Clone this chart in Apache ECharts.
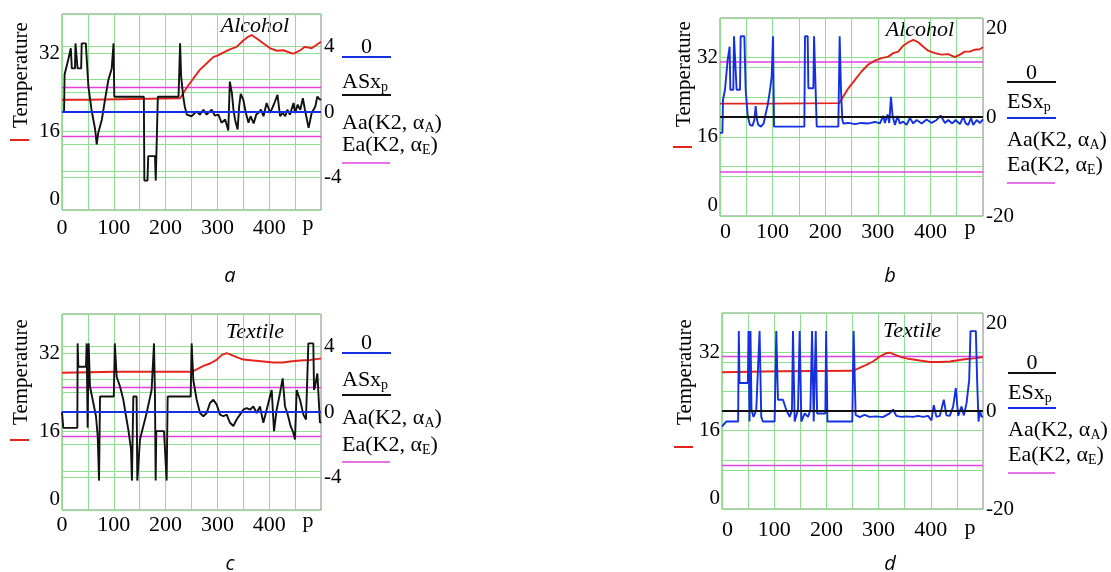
<!DOCTYPE html>
<html><head><meta charset="utf-8">
<script src="https://cdn.jsdelivr.net/npm/echarts@6/dist/echarts.min.js"></script>
<style>html,body{margin:0;padding:0;background:#fff;}#c{width:1111px;height:572px;}</style>
</head><body><div id="c"></div>
<script>
// ---------------- DATA ----------------
// x positions p (0..500) and values
const xTicks = [0, 100, 200, 300, 400];
const tempTicks = [0, 16, 32];
const asTicks = [-4, 0, 4];
const esTicks = [-20, 0, 20];

// Panel a: Alcohol, ASx
const aTempX = [0, 50, 51, 228, 241, 254, 266, 279, 292, 302, 311, 324, 337, 350, 360, 366, 376, 389, 402, 415, 427, 440, 447, 460, 469, 482, 498, 500];
const aTempY = [22.5, 22.5, 22.7, 22.8, 25.0, 26.9, 28.6, 29.9, 31.2, 31.6, 32.1, 32.8, 33.3, 34.6, 35.4, 35.7, 35.0, 34.0, 33.0, 32.5, 32.6, 32.1, 31.9, 32.6, 33.3, 33.0, 34.2, 34.3];
const aSigX = [0, 4, 5, 12, 17, 19, 25, 26, 29, 30, 37, 38, 46, 51, 57, 64, 67, 70, 77, 83, 89.5, 96, 99.5, 101, 158, 159, 165, 166.5, 179.5, 181, 183, 185, 225, 228, 230, 234, 237, 241, 250, 260, 266, 273, 279, 289, 295, 302, 308, 315, 321, 324, 328, 331, 334, 339, 342, 345, 350, 355, 360, 364, 370, 375, 379, 384, 389, 395, 402, 410, 416, 421, 426, 431, 435, 440, 447, 450, 455, 460, 465, 469, 476, 482, 489, 493, 498, 500];
const aSigY = [0, 0, 2.3, 3.2, 3.9, 2.67, 2.67, 4.2, 4.2, 2.67, 2.67, 4.2, 4.2, 1.55, 0.14, -1.07, -1.98, -1.27, -0.46, 0.75, 1.96, 2.67, 4.2, 0.93, 0.93, -4.2, -4.2, -2.7, -2.7, -4.2, -4.2, 0.93, 0.93, 4.2, 2.16, 0.95, 0.34, -0.16, -0.26, 0.04, -0.16, 0.14, -0.16, 0.14, -0.22, -0.16, -0.66, -0.46, -1.13, 1.86, 1.15, 0.14, -0.46, -1.07, 0.34, 1.11, 0.75, -0.06, -0.66, -0.26, -0.7, -0.16, -0.06, 0.14, -0.26, 0.55, -0.06, 0.55, 1.05, -0.26, -0.06, -0.26, 0.14, -0.16, 0.55, -0.06, 0.45, 0.14, 0.85, 0.14, -0.97, -0.06, 0.34, 0.95, 0.75, 0.8];
const aLimits = [1.5, -1.5];

// Panel b: Alcohol, ESx
const bTempX = [0, 90, 91, 227, 230, 244, 256.6, 269, 282, 294.6, 307.3, 320, 329.4, 338.9, 348.4, 357.9, 367.4, 376.9, 386.4, 395.8, 408.5, 421.2, 433.8, 446.5, 456, 465.5, 475, 484.4, 494, 500];
const bTempY = [22.7, 22.7, 22.8, 22.8, 23.4, 25.8, 27.5, 29.2, 30.6, 31.4, 31.9, 32.2, 32.9, 33.2, 34.4, 35.1, 35.6, 35.1, 34.2, 33.4, 32.9, 32.6, 32.7, 32.1, 32.6, 33.2, 33.2, 33.6, 33.7, 34.1];
const bSigX = [0, 4.5, 5.7, 9.5, 14.5, 18.3, 19.6, 25.3, 26.6, 30.4, 31.6, 38, 39.3, 46.3, 48.8, 52.7, 57, 61.5, 65.3, 67.8, 70.4, 72.9, 78, 83, 86.9, 90.7, 95.1, 98.3, 100.8, 102.7, 160.3, 161.6, 166.7, 168, 177.5, 178.8, 182, 183.9, 225, 227.5, 230, 232.6, 234.5, 244, 256.6, 269, 282, 294.6, 304, 310.4, 313.5, 318.6, 321.8, 325, 328.1, 332.6, 337.6, 342, 348.4, 354.8, 361.1, 367.4, 373.8, 383.3, 392.8, 402.3, 411.8, 419.4, 427.6, 434, 441.6, 447.9, 456.2, 462.5, 467, 472, 477.1, 481.5, 487.9, 494.2, 500];
const bSigY = [-3.2, -3.2, 3.5, 5.5, 11.5, 14.2, 5.5, 5.5, 16.3, 16.3, 5.5, 5.5, 16.3, 16.3, 5.5, 0.2, -1.6, -1.8, -0.6, 2.2, -0.6, -1.6, -1.95, -1.3, 0.7, 2.4, 5.5, 8.2, 16.3, -1.95, -1.95, 16.3, 16.3, 5.8, 5.8, 16.3, 16.3, -1.95, -1.95, 16.3, 5.5, -0.6, -1.3, -1.2, -1.45, -1.2, -1.3, -1.0, -1.3, 0.2, -1.2, 0.5, -1.2, 4.1, 0.2, -1.6, 0.2, -1.3, -0.95, -1.6, -0.2, -1.3, -0.6, -1.3, -0.5, -1.2, -0.6, 0.3, -1.2, -0.6, -1.3, -0.6, -1.45, 0.05, -1.3, -1.6, -0.2, -1.6, -0.6, -1.2, -0.5];
const bLimits = [11.1, -11.1];

// Panel c: Textile, ASx
const cTempX = [0, 105, 183, 250, 260, 273, 286, 299, 308, 318, 328, 337, 350, 369, 389, 408, 427, 440, 460, 479, 498, 500];
const cTempY = [28.0, 28.2, 28.2, 28.2, 28.7, 29.4, 29.9, 30.7, 31.6, 32.0, 31.6, 31.2, 30.7, 30.5, 30.3, 30.1, 30.1, 30.3, 30.5, 30.6, 30.9, 30.9];
const cSigX = [0, 2, 2.5, 29.6, 30.2, 31.5, 46.3, 47.6, 49.5, 51.5, 54, 60.5, 65.6, 68.9, 71.5, 73.4, 100, 102, 105.5, 112, 118.4, 123.6, 128, 133.2, 135, 137.7, 144, 145.4, 149, 150.6, 163.4, 173, 177.6, 179.5, 180.8, 182, 196.9, 202, 204, 248.4, 250.3, 253.5, 260, 266.4, 272.9, 279.3, 285.7, 292.2, 298.6, 305, 311.5, 317.9, 324.3, 330.8, 337.2, 343.6, 350, 356.5, 363, 369.4, 375.8, 382.2, 388.7, 395.1, 401.5, 404.8, 409.3, 414.4, 420.8, 426, 430.5, 435, 441.4, 446.6, 449.8, 453, 459.5, 466, 471, 475.6, 485.2, 486.5, 488.4, 493, 498, 500];
const cSigY = [0, 0, -0.97, -0.97, 4.2, 2.77, 2.77, 4.2, -0.97, 4.2, 1.56, 0.55, -0.26, -1.47, -4.2, 0.95, 0.95, 4.2, 2.16, 1.56, 0.75, -0.26, -1.07, -2.28, -4.2, 0.95, 0.95, -4.2, -4.2, -1.67, -0.06, 1.35, 4.2, 0.95, -4.2, -1.17, -1.17, -4.2, 0.95, 0.95, 4.2, 1.96, 0.75, -0.06, -0.26, -0.06, 0.55, 0.75, 0.45, -0.16, -0.26, -0.16, -0.66, -0.86, -0.46, -0.16, 0.14, 0.24, 0.14, 0.34, -0.06, 0.34, -0.66, 0.14, 0.95, 1.35, -1.17, 0.14, 1.15, 2.06, 0.34, -0.06, -0.87, -1.27, -1.68, 1.35, 0.75, -0.16, -0.46, 4.2, 4.2, 1.35, 1.56, 2.36, -0.66, -0.6];
const cLimits = [1.5, -1.5];

// Panel d: Textile, ESx
const dTempX = [0, 110, 251, 263.6, 276.4, 289.2, 302, 314.8, 321.2, 330.8, 343.6, 359.6, 378.8, 398, 417.2, 436.4, 449.2, 468.4, 487.6, 500];
const dTempY = [27.9, 28.1, 28.2, 28.8, 29.4, 30.1, 31.1, 31.8, 31.9, 31.5, 31.0, 30.6, 30.3, 30.0, 30.0, 30.1, 30.3, 30.6, 30.8, 31.0];
const dSigX = [0, 3, 8, 30.9, 32.2, 33.5, 49.5, 50.8, 52.7, 54.6, 56.5, 60.4, 65.6, 72, 75.2, 78.4, 100.8, 104, 107.2, 116.8, 123.2, 129.6, 134, 136, 139.2, 145.6, 148.8, 152, 158.4, 164.8, 169.3, 172.5, 175.7, 179.6, 182.2, 198, 199.5, 202, 249.6, 252.1, 256, 263.6, 273.2, 282.8, 295.6, 308.4, 321.2, 327.6, 334, 343.6, 353.2, 366, 375.6, 385.2, 394.8, 401.2, 405.7, 410.8, 417.2, 424.9, 430, 436.4, 442.8, 447.9, 452.4, 458.8, 463.3, 468.4, 473.5, 476.1, 486.3, 488.9, 491.5, 494, 497.3, 500];
const dSigY = [-3.2, -3.0, -2.15, -2.15, 16.3, 5.7, 5.7, 16.3, -2.15, 16.3, 0.2, -1.2, 0.2, 16.3, -1.2, -2.15, -2.15, 16.3, 2.3, 2.3, 0.2, -1.2, 0.2, 16.3, -2.15, 0.2, 16.3, -2.15, -0.5, -1.2, 0.2, 16.3, -2.15, 16.3, -0.5, -0.5, 16.3, -2.15, -2.15, 16.3, -0.8, -1.25, -0.8, -1.2, -1.1, -1.25, -0.5, 0.3, -1.0, -1.2, -1.1, -1.2, -1.0, -1.2, -1.0, -1.9, 1.2, -1.2, -1.0, 2.3, -0.9, -1.0, 0.9, 4.7, -1.0, 0.9, -0.9, 1.55, 6.3, 16.3, 16.3, 5.7, -2.15, 0.2, -1.2, -1.1];
const dLimits = [11.1, -11.1];

// ---------------- CHART ----------------
const SERIF = '"Liberation Serif", "Times New Roman", serif';
const GREEN = '#8ee08e';
const RED = '#e3241c';
const BLUE = '#1530e0';
const BLACK = '#111111';
const MAG = '#dd44dd';
const zip = (xs, ys) => xs.map((x, i) => [x, ys[i]]);

const grids = [
  {left: 62, top: 14, width: 259, height: 196},
  {left: 720, top: 18, width: 263, height: 198},
  {left: 62, top: 314, width: 259, height: 196},
  {left: 722, top: 313, width: 261, height: 196}
].map(g => Object.assign(g, {show: true, borderColor: '#8a8a8a', borderWidth: 1, backgroundColor: 'transparent', containLabel: false}));

const xMargins = [7, 5, 4, 10];
const labelBase = {fontFamily: SERIF, fontSize: 21, color: '#000'};
const xAxes = [0, 1, 2, 3].map(i => ({
  gridIndex: i, type: 'value', min: 0, max: 500, interval: 50,
  axisLine: {show: false}, axisTick: {show: false},
  splitLine: {show: true, lineStyle: {color: GREEN, width: 1}},
  axisLabel: Object.assign({}, labelBase, {fontSize: 22, margin: xMargins[i],
    alignMinLabel: (i % 2) ? 'left' : 'center',
    formatter: v => xTicks.includes(v) ? String(v) : ''})
}));

const yAxes = [];
[0, 1, 2, 3].forEach(i => {
  yAxes.push({
    gridIndex: i, type: 'value', min: 0, max: 40, interval: 8, position: 'left',
    axisLine: {show: false}, axisTick: {show: false},
    splitLine: {show: true, lineStyle: {color: GREEN, width: 1}},
    axisLabel: Object.assign({}, labelBase, {margin: 2, verticalAlignMinLabel: 'bottom',
      formatter: v => tempTicks.includes(v) ? String(v) : ''})
  });
  const es = (i % 2) === 1;
  yAxes.push({
    gridIndex: i, type: 'value', position: 'right',
    min: es ? -20 : -6, max: es ? 20 : 6, interval: es ? 10 : 2,
    axisLine: {show: false}, axisTick: {show: false},
    splitLine: {show: true, lineStyle: {color: GREEN, width: 1}},
    axisLabel: Object.assign({}, labelBase, {margin: 3,
      verticalAlignMaxLabel: 'top',
      formatter: v => (es ? esTicks : asTicks).includes(v) ? String(v) : ''})
  });
});

function line(i, axis, data, color, width, z) {
  return {type: 'line', xAxisIndex: i, yAxisIndex: i * 2 + axis, data: data,
    symbol: 'none', smooth: false, silent: true, z: z,
    lineStyle: {color: color, width: width}, animation: false};
}
const panels = [
  {tx: aTempX, ty: aTempY, sx: aSigX, sy: aSigY, lim: aLimits, sig: BLACK, zero: BLUE},
  {tx: bTempX, ty: bTempY, sx: bSigX, sy: bSigY, lim: bLimits, sig: BLUE, zero: BLACK},
  {tx: cTempX, ty: cTempY, sx: cSigX, sy: cSigY, lim: cLimits, sig: BLACK, zero: BLUE},
  {tx: dTempX, ty: dTempY, sx: dSigX, sy: dSigY, lim: dLimits, sig: BLUE, zero: BLACK}
];
const series = [];
panels.forEach((p, i) => {
  series.push(line(i, 1, zip([0, 500], [p.lim[0], p.lim[0]]), MAG, 1.5, 2));
  series.push(line(i, 1, zip([0, 500], [p.lim[1], p.lim[1]]), MAG, 1.5, 2));
  series.push(line(i, 0, zip(p.tx, p.ty), RED, 1.9, 3));
  series.push(line(i, 1, zip(p.sx, p.sy), p.sig, 1.9, 4));
  series.push(line(i, 1, zip([0, 500], [0, 0]), p.zero, 2, 5));
});

// ---------------- TEXT / LEGEND DECORATIONS ----------------
const g = [];
function txt(x, y, text, font, align, extra) {
  g.push(Object.assign({type: 'text', x: x, y: y, silent: true,
    style: {text: text, font: font, fill: '#000', align: align || 'left', verticalAlign: 'middle',
      textAlign: align || 'left', textVerticalAlign: 'middle'}}, extra || {}));
}
function seg(x1, y1, x2, y2, color, w) {
  g.push({type: 'line', silent: true, shape: {x1: x1, y1: y1, x2: x2, y2: y2}, style: {stroke: color, lineWidth: w}});
}
const RICH = {
  m: {fontFamily: SERIF, fontSize: 22, lineHeight: 24, fill: '#000', color: '#000'},
  s: {fontFamily: SERIF, fontSize: 14, lineHeight: 12, verticalAlign: 'bottom', fill: '#000', color: '#000'}
};
function rich(x, y, text) {
  g.push({type: 'text', x: x, y: y, silent: true,
    style: {text: text, rich: RICH, fill: '#000', align: 'left', verticalAlign: 'middle', textAlign: 'left', textVerticalAlign: 'middle'}});
}
const legends = [
  {x: 342, x2: 391, z: [47, 57], s: [82, 95], aa: 123, ea: 145, m: 163, name: 'AS', zero: BLUE, sig: BLACK},
  {x: 1007, x2: 1056, z: [73, 82], s: [102, 118], aa: 140, ea: 165, m: 183, name: 'ES', zero: BLACK, sig: BLUE},
  {x: 342, x2: 391, z: [343, 353], s: [380, 395], aa: 418, ea: 445, m: 462, name: 'AS', zero: BLUE, sig: BLACK},
  {x: 1008, x2: 1056, z: [363, 373], s: [393, 408], aa: 430, ea: 455, m: 473, name: 'ES', zero: BLACK, sig: BLUE}
];
legends.forEach(L => {
  txt((L.x + L.x2) / 2, L.z[0], '0', '22px ' + SERIF, 'center');
  seg(L.x, L.z[1], L.x2, L.z[1], L.zero, 2);
  rich(L.x, L.s[0], '{m|' + L.name + 'x}{s|p}');
  seg(L.x, L.s[1], L.x2, L.s[1], L.sig, 2);
  rich(L.x, L.aa, '{m|Aa(K2, α}{s|A}{m|)}');
  rich(L.x, L.ea, '{m|Ea(K2, α}{s|E}{m|)}');
  seg(L.x, L.m, L.x2 - 1, L.m, MAG, 1.5);
});
// panel titles
txt(255, 26, 'Alcohol', 'italic 22px ' + SERIF, 'center');
txt(920, 30, 'Alcohol', 'italic 22px ' + SERIF, 'center');
txt(255, 332, 'Textile', 'italic 22px ' + SERIF, 'center');
txt(912, 331, 'Textile', 'italic 22px ' + SERIF, 'center');
// x-axis variable
txt(308, 224, 'p', '22px ' + SERIF, 'center');
txt(970, 228, 'p', '22px ' + SERIF, 'center');
txt(308, 521, 'p', '22px ' + SERIF, 'center');
txt(970, 528, 'p', '22px ' + SERIF, 'center');
// y-axis name with red legend stroke
[[21, 75, 140], [684, 74, 147], [21, 372, 440], [685, 372, 447]].forEach(a => {
  txt(a[0], a[1], 'Temperature', '21px ' + SERIF, 'center', {rotation: Math.PI / 2});
  seg(a[0] - 11, a[2], a[0] + 8, a[2], RED, 2);
});
// subfigure letters
txt(230, 276, 'a', 'italic 20px "Open Sans"', 'center');
txt(890, 276, 'b', 'italic 20px "Open Sans"', 'center');
txt(230, 564, 'c', 'italic 20px "Open Sans"', 'center');
txt(890, 564, 'd', 'italic 20px "Open Sans"', 'center');

const chart = echarts.init(document.getElementById('c'));
chart.setOption({
  animation: false,
  backgroundColor: '#fff',
  grid: grids,
  xAxis: xAxes,
  yAxis: yAxes,
  series: series,
  graphic: {elements: g}
});
</script></body></html>
